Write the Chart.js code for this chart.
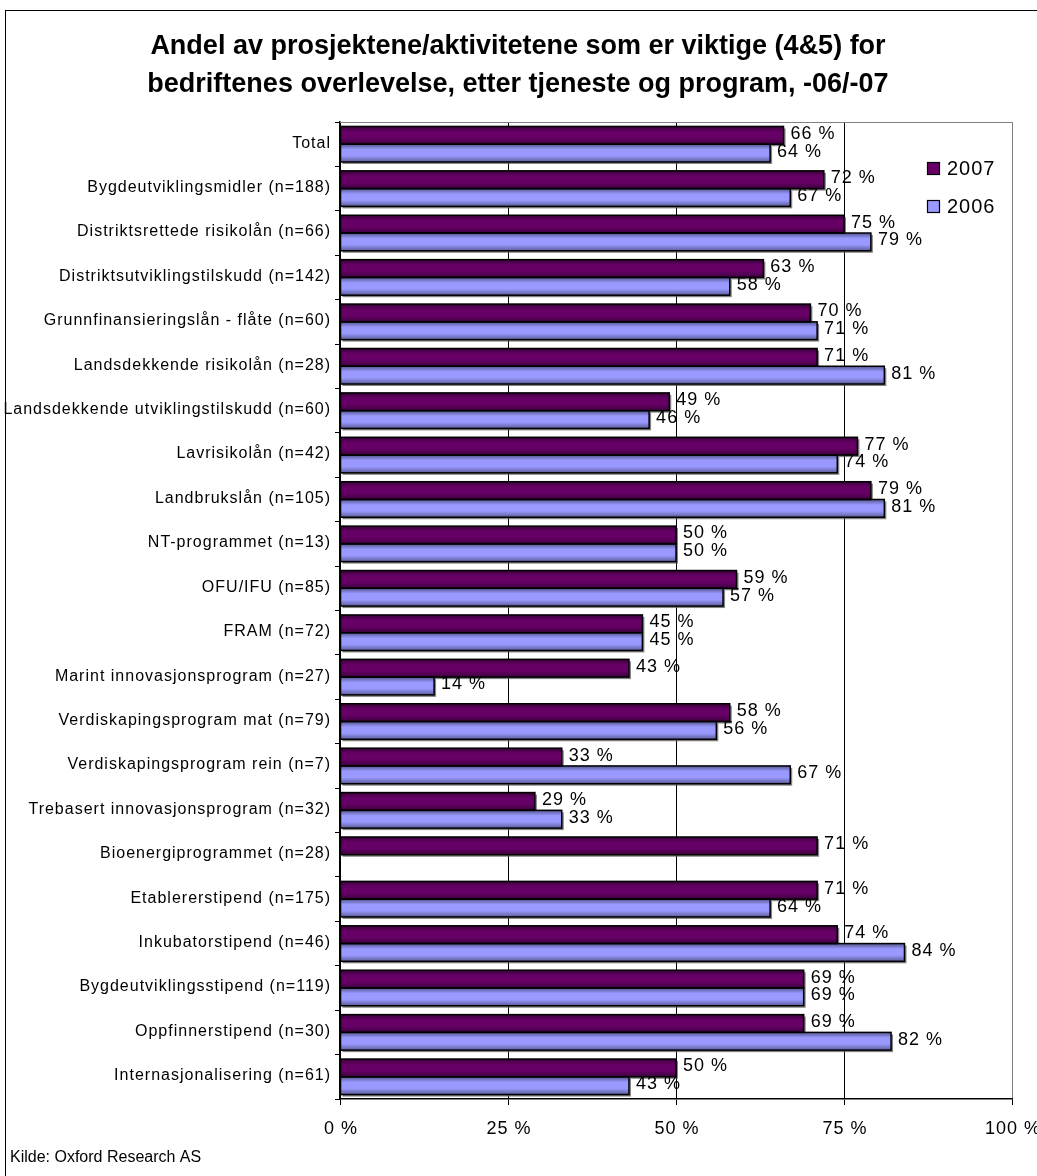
<!DOCTYPE html>
<html><head><meta charset="utf-8">
<script src="https://cdn.jsdelivr.net/npm/chart.js@4.4.1/dist/chart.umd.min.js"></script>
<style>
html,body{margin:0;padding:0;background:#fff;}
#wrap{position:relative;width:1037px;height:1176px;}
</style></head>
<body><div id="wrap"><canvas id="c" width="1037" height="1176"></canvas></div>
<script>
const categories = [
 "Total","Bygdeutviklingsmidler (n=188)","Distriktsrettede risikolån (n=66)","Distriktsutviklingstilskudd (n=142)",
 "Grunnfinansieringslån - flåte (n=60)","Landsdekkende risikolån (n=28)","Landsdekkende utviklingstilskudd (n=60)",
 "Lavrisikolån (n=42)","Landbrukslån (n=105)","NT-programmet (n=13)","OFU/IFU (n=85)","FRAM (n=72)",
 "Marint innovasjonsprogram (n=27)","Verdiskapingsprogram mat (n=79)","Verdiskapingsprogram rein (n=7)",
 "Trebasert innovasjonsprogram (n=32)","Bioenergiprogrammet (n=28)","Etablererstipend (n=175)",
 "Inkubatorstipend (n=46)","Bygdeutviklingsstipend (n=119)","Oppfinnerstipend (n=30)","Internasjonalisering (n=61)"
];
const values2007 = [66,72,75,63,70,71,49,77,79,50,59,45,43,58,33,29,71,71,74,69,69,50];
const values2006 = [64,67,79,58,71,81,46,74,81,50,57,45,14,56,67,33,null,64,84,69,82,43];
const xTicks = [0,25,50,75,100];
const titleLines = ["Andel av prosjektene/aktivitetene som er viktige (4&5) for","bedriftenes overlevelse, etter tjeneste og program, -06/-07"];
const sourceText = "Kilde: Oxford Research AS";
const seriesNames = ["2007","2006"];
const colors = ["#660066","#9999FF"];

const FONT = "Arial, 'Liberation Sans', sans-serif";

function setLS(ctx,v){ if('letterSpacing' in ctx) ctx.letterSpacing=v; }

const decor = {
  id:'decor',
  beforeDraw(chart){
    const ctx = chart.ctx;
    ctx.save();
    ctx.fillStyle='#fff'; ctx.fillRect(0,0,chart.width,chart.height);
    ctx.strokeStyle='#000'; ctx.lineWidth=1;
    ctx.strokeRect(5.5,10.5,1040,1200);
    ctx.fillStyle='#000';
    ctx.font = "bold 27px "+FONT;
    ctx.textAlign='center'; ctx.textBaseline='middle';
    ctx.fillText(titleLines[0],518,47);
    ctx.fillText(titleLines[1],518,85);
    ctx.font = "16px "+FONT; ctx.textAlign='left';
    ctx.fillText(sourceText,10,1158);
    ctx.restore();
  },
  beforeDatasetsDraw(chart){
    const ctx = chart.ctx;
    ctx.save();
    ctx.fillStyle='rgba(90,90,90,0.75)';
    chart.data.datasets.forEach((ds,di)=>{
      chart.getDatasetMeta(di).data.forEach((bar,i)=>{
        if(ds.data[i]==null) return;
        const h=bar.height, top=bar.y-h/2;
        ctx.fillRect(bar.base+2, top+2, bar.x-bar.base, h);
      });
    });
    ctx.restore();
  },
  afterDatasetsDraw(chart){
    const ctx = chart.ctx;
    const a = chart.chartArea;
    ctx.save();
    // shading + borders on bars
    chart.data.datasets.forEach((ds,di)=>{
      chart.getDatasetMeta(di).data.forEach((bar,i)=>{
        if(ds.data[i]==null) return;
        const h=bar.height, top=bar.y-h/2, w=bar.x-bar.base;
        const g=ctx.createLinearGradient(0,top,0,top+h);
        g.addColorStop(0,'rgba(0,0,0,0.45)');
        g.addColorStop(0.3,'rgba(0,0,0,0)');
        g.addColorStop(0.65,'rgba(0,0,0,0)');
        g.addColorStop(1,'rgba(0,0,0,0.4)');
        ctx.fillStyle=g; ctx.fillRect(bar.base,top,w,h);
        ctx.strokeStyle='#000'; ctx.lineWidth=1.5;
        ctx.strokeRect(bar.base,top,w,h);
      });
    });
    // top border gray
    ctx.strokeStyle='#808080'; ctx.lineWidth=1;
    ctx.beginPath(); ctx.moveTo(a.left,a.top+0.5); ctx.lineTo(a.right,a.top+0.5); ctx.stroke();
    // data labels
    setLS(ctx,'1px');
    ctx.fillStyle='#000'; ctx.font="18px "+FONT; ctx.textAlign='left'; ctx.textBaseline='middle';
    chart.data.datasets.forEach((ds,di)=>{
      chart.getDatasetMeta(di).data.forEach((bar,i)=>{
        const v = ds.data[i];
        if(v===null||v===undefined) return;
        ctx.fillText(v+" %", bar.x+7, bar.y-1.5);
      });
    });
    // legend
    ctx.font="20px "+FONT;
    const ly=[169,207];
    seriesNames.forEach((n,i)=>{
      ctx.fillStyle=colors[i]; ctx.fillRect(927,ly[i]-6,12,12);
      ctx.strokeStyle='#000'; ctx.lineWidth=1.2; ctx.strokeRect(927.5,ly[i]-6.5,12,12);
      ctx.fillStyle='#000'; ctx.fillText(n,947,ly[i]);
    });
    // y category labels
    const ys = chart.scales.y;
    ctx.font="16px "+FONT; ctx.textAlign='right';
    categories.forEach((c,i)=>{
      ctx.fillText(c, 331, ys.getPixelForTick(i)-1);
    });
    // x tick labels
    const xs = chart.scales.x;
    ctx.font="18px "+FONT; ctx.textAlign='center';
    xTicks.forEach(v=>{
      ctx.fillText(v+" %", xs.getPixelForValue(v)+1, 1129);
    });
    setLS(ctx,'0px');
    ctx.restore();
  }
};

new Chart(document.getElementById('c'),{
  type:'bar',
  data:{
    labels:categories,
    datasets:[
      {label:seriesNames[0],data:values2007,backgroundColor:colors[0],borderColor:'#000',borderWidth:0,categoryPercentage:0.8,barPercentage:1.0},
      {label:seriesNames[1],data:values2006,backgroundColor:colors[1],borderColor:'#000',borderWidth:0,categoryPercentage:0.8,barPercentage:1.0}
    ]
  },
  options:{
    indexAxis:'y',
    responsive:false,
    animation:false,
    layout:{padding:{left:0,top:122,right:25,bottom:7}},
    plugins:{legend:{display:false},tooltip:{enabled:false},title:{display:false}},
    scales:{
      x:{
        min:0,max:100,
        afterBuildTicks(s){ s.ticks = xTicks.map(v=>({value:v})); },
        ticks:{display:false},
        grid:{color:(c)=> c.index===4 ? '#808080' : '#000',lineWidth:1,tickLength:6,drawTicks:true,tickColor:'#000'},
        border:{color:'#000',width:1.5},
        afterFit(s){ s.height=70; s.paddingLeft=0; s.paddingRight=0; }
      },
      y:{
        ticks:{display:false,autoSkip:false},
        grid:{offset:true,drawOnChartArea:false,tickLength:5,color:'#000'},
        border:{color:'#000',width:1.5},
        afterFit(s){ s.width=340; s.paddingTop=0; s.paddingBottom=0; }
      }
    }
  },
  plugins:[decor]
});
</script></body></html>
